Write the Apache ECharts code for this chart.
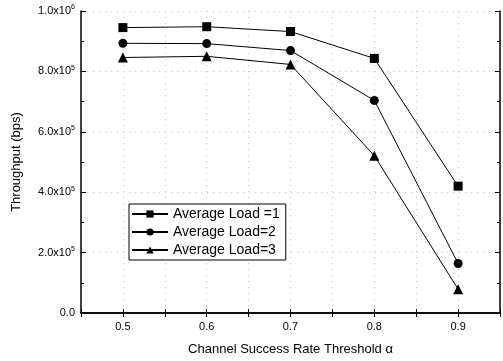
<!DOCTYPE html>
<html>
<head>
<meta charset="utf-8">
<script src="https://cdn.jsdelivr.net/npm/echarts@6/dist/echarts.min.js"></script>
<style>
html, body { margin: 0; padding: 0; background: #fff; }
#chart { width: 503px; height: 361px; }
</style>
</head>
<body>
<div id="chart"></div>
<script>
var thresholds = [0.5, 0.6, 0.7, 0.8, 0.9];
var load1 = [945000, 948000, 932000, 843000, 420000];
var load2 = [893000, 892000, 869000, 704000, 164000];
var load3 = [846000, 850000, 823000, 521000, 79000];
var seriesNames = ['Average Load =1', 'Average Load=2', 'Average Load=3'];
var yTickLabels = {
    0: '0.0',
    200000: '2.0x10{s|5}',
    400000: '4.0x10{s|5}',
    600000: '6.0x10{s|5}',
    800000: '8.0x10{s|5}',
    1000000: '1.0x10{s|6}'
};

function pairs(vals) {
    return thresholds.map(function (t, i) { return [t, vals[i]]; });
}

var myChart = echarts.init(document.getElementById('chart'));
var axisLineStyle = { show: true, lineStyle: { color: '#000', width: 1.5 } };
var yTick = { show: true, inside: true, length: 5, lineStyle: { color: '#000' } };
var yMinor = { show: true, splitNumber: 2, length: 3, lineStyle: { color: '#000' } };
var xTick = { show: true, inside: true, length: 4, lineStyle: { color: '#000' } };
var dotted = { show: true, lineStyle: { color: '#c8c8c8', type: [1, 5], width: 1 } };

var option = {
    animation: false,
    textStyle: { fontFamily: 'Liberation Sans' },
    grid: { left: 81, right: 3, top: 11, bottom: 45, containLabel: false },
    legend: {
        orient: 'vertical',
        left: 129,
        top: 204,
        data: seriesNames,
        itemWidth: 36,
        itemHeight: 9,
        itemGap: 4,
        padding: [3, 6, 3, 2],
        borderColor: '#000',
        borderWidth: 1,
        backgroundColor: '#fff',
        textStyle: { fontSize: 14, color: '#000', fontFamily: 'Liberation Sans' }
    },
    xAxis: [{
        type: 'value',
        min: 0.45,
        max: 0.95,
        interval: 0.05,
        name: 'Channel Success Rate Threshold α',
        nameLocation: 'middle',
        nameGap: 30,
        nameTextStyle: { fontSize: 13, color: '#000' },
        axisLabel: {
            color: '#000', fontSize: 11, margin: 8,
            formatter: function (v) {
                var r = Math.round(v * 100);
                if (r % 10 !== 0) return '';
                return (r / 100).toFixed(1);
            }
        },
        axisLine: axisLineStyle,
        axisTick: xTick,
        splitLine: dotted
    }, {
        type: 'value',
        position: 'top',
        min: 0.45,
        max: 0.95,
        interval: 0.05,
        axisLabel: { show: false },
        axisLine: axisLineStyle,
        axisTick: xTick,
        splitLine: { show: false }
    }],
    yAxis: [{
        type: 'value',
        min: 0,
        max: 1000000,
        interval: 200000,
        name: 'Throughput (bps)',
        nameLocation: 'middle',
        nameGap: 58,
        nameTextStyle: { fontSize: 13, color: '#000' },
        axisLabel: {
            color: '#000', fontSize: 11, margin: 6,
            formatter: function (v) { return yTickLabels[v] || ''; },
            rich: { s: { fontSize: 7, verticalAlign: 'top', padding: [0, 0, 7, 0], color: '#000' } }
        },
        axisLine: axisLineStyle,
        axisTick: yTick,
        minorTick: yMinor,
        splitLine: dotted
    }, {
        type: 'value',
        position: 'right',
        min: 0,
        max: 1000000,
        interval: 200000,
        axisLabel: { show: false },
        axisLine: axisLineStyle,
        axisTick: yTick,
        minorTick: yMinor,
        splitLine: { show: false }
    }],
    series: [{
        name: seriesNames[0],
        type: 'line',
        data: pairs(load1),
        symbol: 'rect',
        symbolSize: 9,
        lineStyle: { color: '#000', width: 1 },
        itemStyle: { color: '#000' }
    }, {
        name: seriesNames[1],
        type: 'line',
        data: pairs(load2),
        symbol: 'circle',
        symbolSize: 9,
        lineStyle: { color: '#000', width: 1 },
        itemStyle: { color: '#000' }
    }, {
        name: seriesNames[2],
        type: 'line',
        data: pairs(load3),
        symbol: 'triangle',
        symbolSize: 10,
        lineStyle: { color: '#000', width: 1 },
        itemStyle: { color: '#000' }
    }]
};

myChart.setOption(option);
window.addEventListener('resize', function () {
    myChart.resize();
});
</script>
</body>
</html>
